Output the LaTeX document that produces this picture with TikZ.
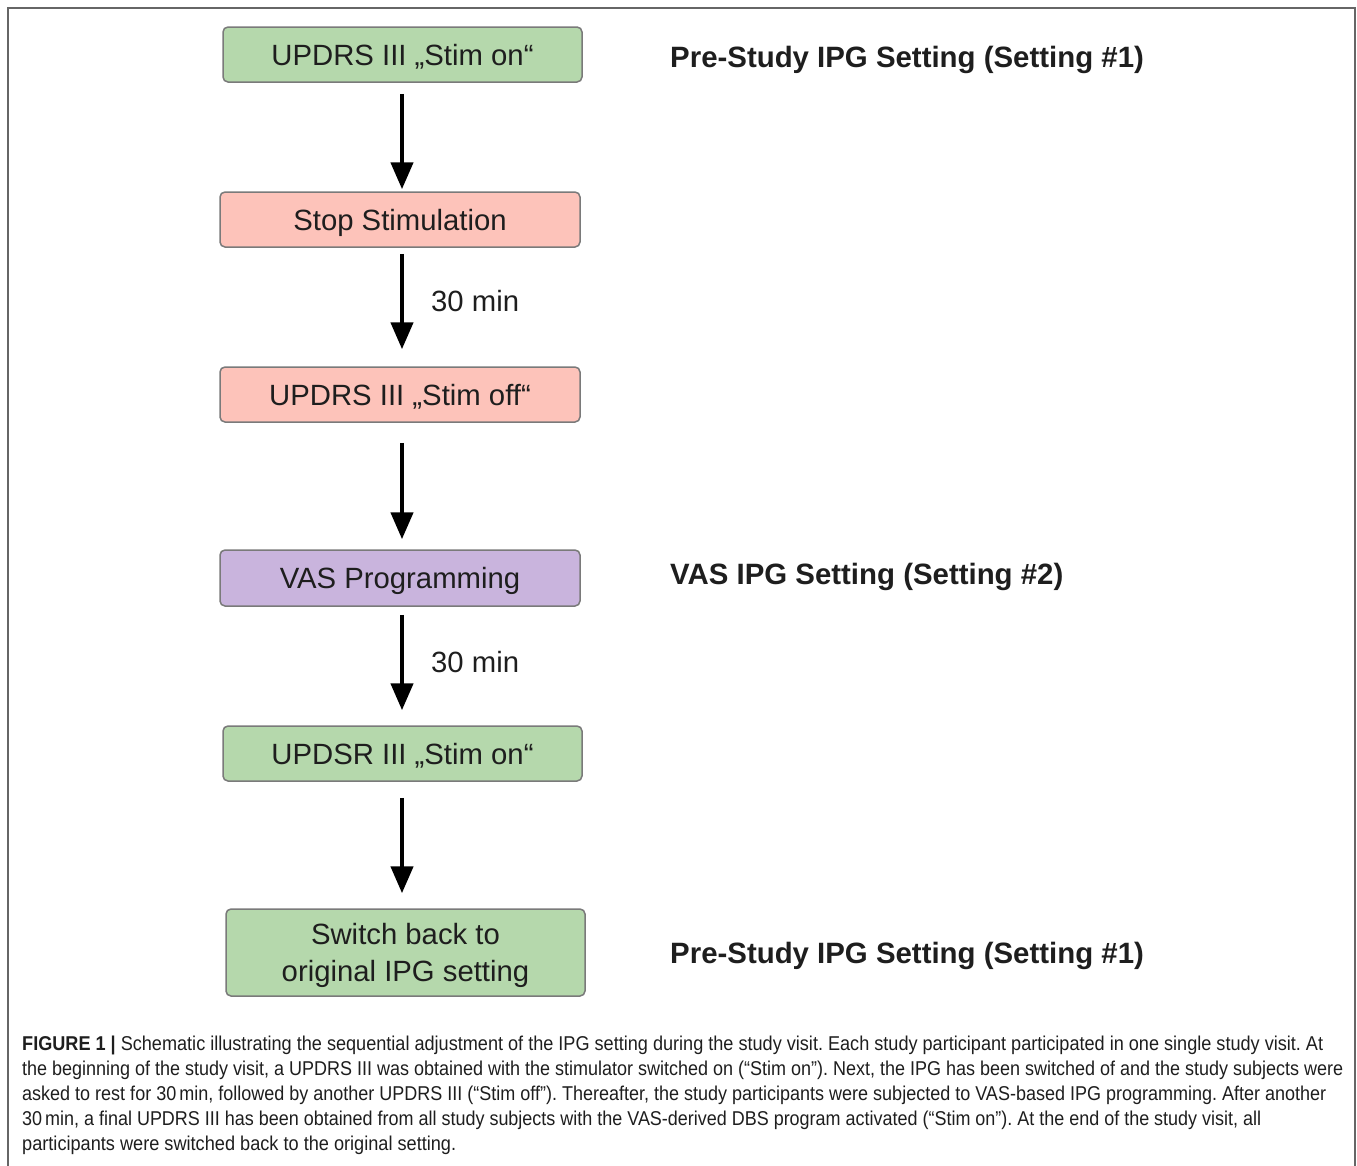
\documentclass[tikz,border=0pt]{standalone}
\usepackage{fontspec}
\setmainfont{Liberation Sans}
\usepackage{graphicx}
\usetikzlibrary{arrows.meta}
\definecolor{gfill}{HTML}{B5D8AC}
\definecolor{pfill}{HTML}{FDC3BA}
\definecolor{vfill}{HTML}{C9B4DD}
\definecolor{bdr}{HTML}{7A7A7A}
\definecolor{txt}{HTML}{1E1E1E}
\definecolor{frm}{HTML}{666666}
\tikzset{
  box/.style={rectangle, rounded corners=5pt, draw=bdr, line width=1.5pt,
    text=txt, font=\fontsize{29.3}{37}\selectfont, align=center, inner sep=0pt, text depth=0pt},
  flow/.style={line width=4.5pt, black, -{Triangle[width=22pt,length=27pt]}},
  side/.style={anchor=west, text=txt, font=\fontsize{29.4}{35}\selectfont\bfseries, inner sep=0pt, text depth=0pt},
  wait/.style={anchor=west, text=txt, font=\fontsize{29.3}{35}\selectfont, inner sep=0pt, text depth=0pt},
  capline/.style={anchor=base west, text=txt, font=\fontsize{20}{22}\selectfont, inner sep=0pt},
  frame/.style={draw=frm, line width=2pt}
}
\begin{document}
\frenchspacing
\begin{tikzpicture}[x=1pt,y=-1pt]
\useasboundingbox (0,0) rectangle (1357,1165);
\draw[frame] (7.5,1166) -- (7.5,7.5) -- (1355,7.5) -- (1355,1166);

\node[box, fill=gfill, minimum width=359pt, minimum height=55pt] (b1) at (402.5,54.5) {UPDRS III „Stim on“};
\node[box, fill=pfill, minimum width=360pt, minimum height=55pt] (b2) at (400,219.5) {Stop Stimulation};
\node[box, fill=pfill, minimum width=360pt, minimum height=55pt] (b3) at (400,394.5) {UPDRS III „Stim off“};
\node[box, fill=vfill, minimum width=360pt, minimum height=56pt] (b4) at (400,578) {VAS Programming};
\node[box, fill=gfill, minimum width=359pt, minimum height=55pt] (b5) at (402.5,753.5) {UPDSR III „Stim on“};
\node[box, fill=gfill, minimum width=359pt, minimum height=87pt] (b6) at (405.5,952.5) {Switch back to\\original IPG setting};

\coordinate (ax) at (402,0);
\draw[flow, shorten <=11pt, shorten >=2pt] (b1.south -| ax) -- (b2.north -| ax);
\draw[flow, shorten <=6pt, shorten >=17pt] (b2.south -| ax) -- (b3.north -| ax);
\draw[flow, shorten <=20pt, shorten >=10pt] (b3.south -| ax) -- (b4.north -| ax);
\draw[flow, shorten <=8pt, shorten >=15pt] (b4.south -| ax) -- (b5.north -| ax);
\draw[flow, shorten <=16pt, shorten >=15pt] (b5.south -| ax) -- (b6.north -| ax);

\node[wait] (w1) at (431,301) {30 min};
\node[wait] (w2) at (431,662) {30 min};

\node[side] (s1) at (670,57) {Pre-Study IPG Setting (Setting \#1)};
\node[side] (s2) at (670,574) {VAS IPG Setting (Setting \#2)};
\node[side] (s3) at (670,953) {Pre-Study IPG Setting (Setting \#1)};

\node[capline] (c1) at (22,1050) {\resizebox{1301pt}{\height}{\textbf{FIGURE 1 |} Schematic illustrating the sequential adjustment of the IPG setting during the study visit. Each study participant participated in one single study visit. At}};
\node[capline] (c2) at (22,1075) {\resizebox{1321pt}{\height}{the beginning of the study visit, a UPDRS III was obtained with the stimulator switched on (“Stim on”). Next, the IPG has been switched of and the study subjects were}};
\node[capline] (c3) at (22,1100) {\resizebox{1304pt}{\height}{asked to rest for 30\,min, followed by another UPDRS III (“Stim off”). Thereafter, the study participants were subjected to VAS-based IPG programming. After another}};
\node[capline] (c4) at (22,1125) {\resizebox{1239pt}{\height}{30\,min, a final UPDRS III has been obtained from all study subjects with the VAS-derived DBS program activated (“Stim on”). At the end of the study visit, all}};
\node[capline] (c5) at (22,1150) {\resizebox{434pt}{\height}{participants were switched back to the original setting.}};
\end{tikzpicture}
\end{document}
